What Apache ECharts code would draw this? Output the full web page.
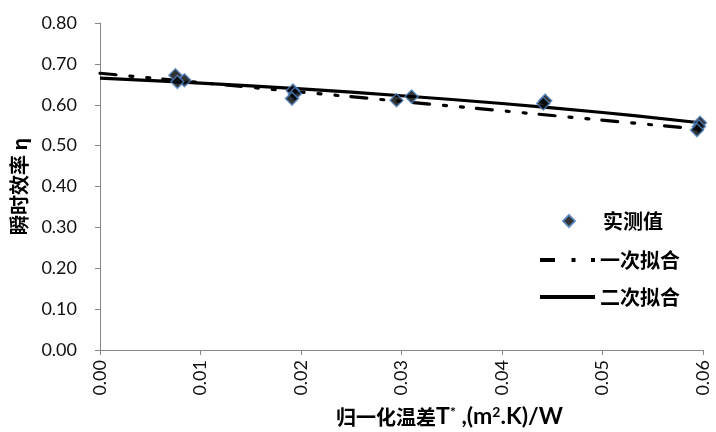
<!DOCTYPE html>
<html>
<head>
<meta charset="utf-8">
<script src="https://cdn.jsdelivr.net/npm/echarts@6/dist/echarts.min.js"></script>
<style>html,body{margin:0;padding:0;background:#fff}#c{width:716px;height:432px}</style>
</head>
<body>
<div id="c"></div>
<script>
// Measured points
var measuredX = [0.0075, 0.0084, 0.0077, 0.0192, 0.0194, 0.0191, 0.0295, 0.0310, 0.0443, 0.0441, 0.0597, 0.0596, 0.0594];
var measuredY = [0.672, 0.660, 0.656, 0.635, 0.627, 0.615, 0.611, 0.620, 0.610, 0.603, 0.556, 0.547, 0.538];
// Linear fit (read at the ends of the line)
var linearX = [0, 0.0597];
var linearY = [0.677, 0.540];
// Quadratic fit
var quadX = [0, 0.01, 0.02, 0.03, 0.04, 0.05, 0.0597];
var quadY = [0.665, 0.653, 0.639, 0.622, 0.603, 0.581, 0.556];
// Axis ticks
var xTicks = {min: 0, max: 0.06, interval: 0.01};
var yTicks = {min: 0, max: 0.8, interval: 0.1};
var names = ['实测值', '一次拟合', '二次拟合'];

function zip(a, b) { return a.map(function (v, i) { return [v, b[i]]; }); }

var chart = echarts.init(document.getElementById('c'), null, {renderer: 'canvas'});
var axisColor = '#868686';
var labelFont = 'Lato';
var cjk = 'Noto Sans CJK SC';
var legendText = {fontFamily: cjk, fontWeight: 'bold', fontSize: 20, lineHeight: 20, color: '#000'};
chart.setOption({
  animation: false,
  backgroundColor: '#fff',
  grid: {left: 100, right: 13, top: 23, bottom: 82, containLabel: false, outerBoundsMode: 'none'},
  legend: [
    {
      orient: 'vertical', left: 557, top: 206,
      itemWidth: 12, itemHeight: 12,
      data: [{name: names[0], icon: 'diamond'}],
      textStyle: Object.assign({}, legendText, {padding: [0, 0, 0, 23]})
    },
    {
      orient: 'vertical', left: 535, top: 245,
      itemWidth: 55, itemHeight: 4, itemGap: 17,
      data: [
        {name: names[1], icon: 'path://M0,0H15V4H0Z M31.5,0H35.5V4H31.5Z M51,0H55V4H51Z', itemStyle: {color: '#000'}},
        {name: names[2], icon: 'path://M0,0H55V4H0Z', itemStyle: {color: '#000'}}
      ],
      textStyle: legendText
    }
  ],
  xAxis: {
    type: 'value',
    min: xTicks.min, max: xTicks.max, interval: xTicks.interval,
    name: '{a|归一化温差}{b|T}{s|*}{b| ,(m}{s|2}{b|.K)/W}',
    nameLocation: 'middle',
    nameGap: 55,
    nameMoveOverlap: false,
    nameTextStyle: {
      padding: [0, 0, 0, 96],
      rich: {
        a: {fontFamily: cjk, fontWeight: 'bold', fontSize: 20, color: '#000'},
        b: {fontFamily: 'Lato', fontWeight: 'bold', fontSize: 23, color: '#000'},
        s: {fontFamily: 'Lato', fontWeight: 'bold', fontSize: 14, color: '#000', verticalAlign: 'top', padding: [0, 0, 10, 0]}
      }
    },
    axisLine: {lineStyle: {color: axisColor, width: 1}},
    axisTick: {show: true, length: 5, lineStyle: {color: axisColor}},
    splitLine: {show: false},
    axisLabel: {
      rotate: 90, margin: 10, fontFamily: labelFont, fontSize: 18, color: '#111',
      formatter: function (v) { return v.toFixed(2); }
    }
  },
  yAxis: {
    type: 'value',
    min: yTicks.min, max: yTicks.max, interval: yTicks.interval,
    name: '瞬时效率 η',
    nameLocation: 'middle',
    nameGap: 71,
    nameMoveOverlap: false,
    nameTextStyle: {fontFamily: cjk, fontWeight: 'bold', fontSize: 20, color: '#000'},
    axisLine: {show: true, lineStyle: {color: axisColor, width: 1}},
    axisTick: {show: true, length: 5, lineStyle: {color: axisColor}},
    splitLine: {show: false},
    axisLabel: {
      margin: 23, fontFamily: labelFont, fontSize: 18, color: '#111',
      formatter: function (v) { return v.toFixed(2); }
    }
  },
  series: [
    {
      name: names[1], type: 'line', symbol: 'none', z: 2,
      data: zip(linearX, linearY),
      lineStyle: {color: '#000', width: 3.2, type: [16, 14, 3, 14, 3, 13], cap: 'round'},
      itemStyle: {color: '#000'}
    },
    {
      name: names[2], type: 'line', symbol: 'none', smooth: 0.4, z: 3,
      data: zip(quadX, quadY),
      lineStyle: {color: '#000', width: 3.2},
      itemStyle: {color: '#000'}
    },
    {
      name: names[0], type: 'scatter', symbol: 'diamond', symbolSize: 13, z: 5,
      data: zip(measuredX, measuredY),
      itemStyle: {color: '#000', borderColor: '#4F81BD', borderWidth: 1.5}
    }
  ]
});
</script>
</body>
</html>
